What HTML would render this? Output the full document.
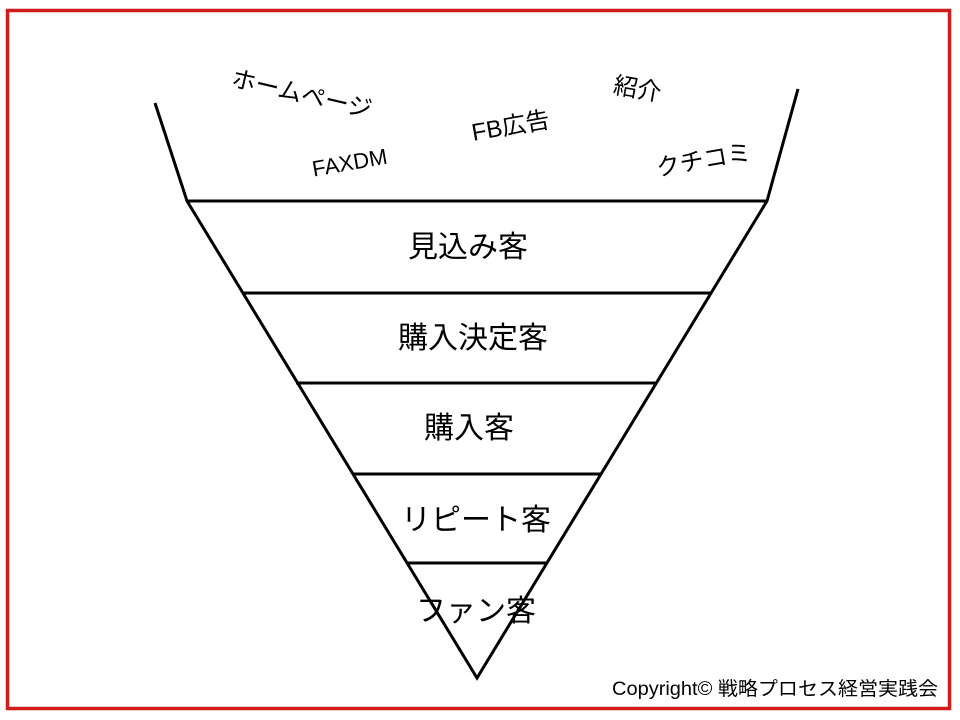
<!DOCTYPE html>
<html><head><meta charset="utf-8"><style>
html,body{margin:0;padding:0;background:#fff;}
svg{display:block;}
text{font-family:"Liberation Sans","Noto Sans CJK JP",sans-serif;fill:#000;}
</style></head><body>
<svg width="960" height="720" viewBox="0 0 960 720" xmlns="http://www.w3.org/2000/svg">
<rect x="7.5" y="10.5" width="942" height="698" fill="#fff" stroke="#d21c1c" stroke-width="3.5"/>
<g stroke="#000" stroke-width="3" fill="none" stroke-linejoin="miter">
<polyline points="155,103 187,201 477,678 767,201 798,89"/>
<line x1="187" y1="201" x2="767" y2="201"/>
<line x1="243" y1="293" x2="712" y2="293"/>
<line x1="296" y1="383" x2="657" y2="383"/>
<line x1="352" y1="474" x2="601" y2="474"/>
<line x1="408" y1="563" x2="546" y2="563"/>
</g>
<g font-size="30" text-anchor="middle">
<text x="468" y="257">見込み客</text>
<text x="473" y="348">購入決定客</text>
<text x="469" y="438">購入客</text>
<text x="476" y="530">リピート客</text>
<text x="476" y="621">ファン客</text>
</g>
<g font-size="24" text-anchor="middle">
<text transform="translate(300,102) rotate(13)">ホームページ</text>
<text transform="translate(636,97) rotate(10)">紹介</text>
<text transform="translate(512,134) rotate(-10)">FB広告</text>
<text transform="translate(351,170) rotate(-10)" font-size="22">FAXDM</text>
<text transform="translate(705,168) rotate(-10)">クチコミ</text>
</g>
<text x="938" y="695" font-size="19" text-anchor="end" textLength="326" lengthAdjust="spacingAndGlyphs">Copyright©  戦略プロセス経営実践会</text>
</svg>
</body></html>
